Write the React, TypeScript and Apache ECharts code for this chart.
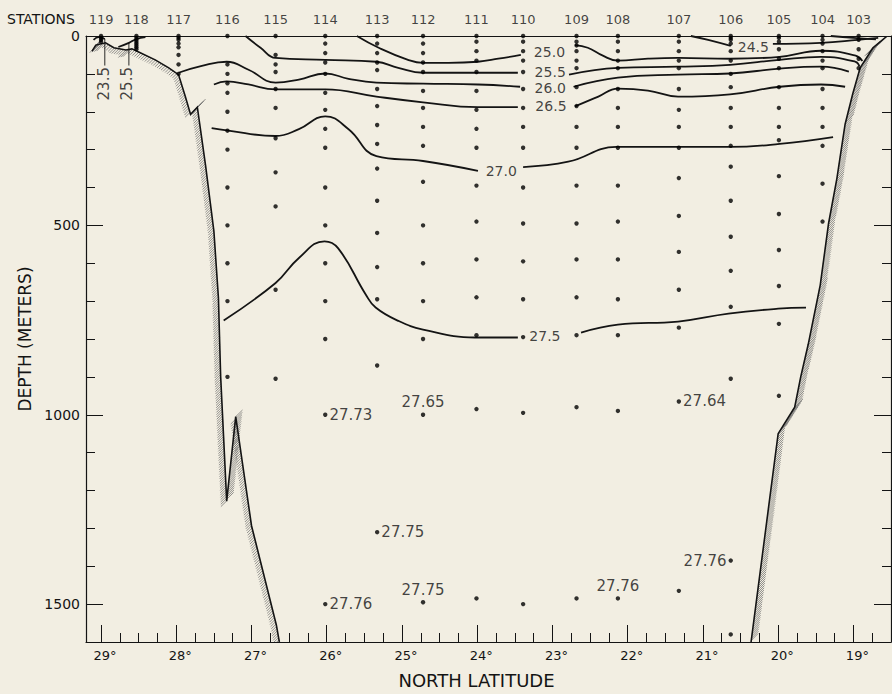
import React, { useEffect, useRef } from 'react';
import * as echarts from 'echarts';

const BG = '#f2eee2';
const INK = '#141414';
const TXT = '#141414';
const FONT = 'DejaVu Sans';

// Stations
const stationNames = ['119', '118', '117', '116', '115', '114', '113', '112', '111', '110', '109', '108', '107', '106', '105', '104', '103'];
const stationLat = [29.0, 28.53, 27.97, 27.32, 26.68, 26.02, 25.33, 24.72, 24.01, 23.39, 22.68, 22.13, 21.32, 20.63, 19.99, 19.41, 18.93];
const stationDepths: number[][] = [
  [0, 5, 10, 15],
  [0, 5, 10, 15, 20, 25, 30, 35],
  [0, 5, 10, 20, 30, 50, 75, 100],
  [0, 75, 100, 125, 150, 200, 250, 300, 400, 500, 600, 700, 900],
  [0, 50, 75, 95, 140, 190, 270, 360, 450, 670, 905],
  [0, 20, 45, 70, 100, 150, 195, 245, 295, 400, 500, 600, 700, 800, 1000, 1500],
  [0, 20, 45, 70, 90, 140, 185, 235, 285, 350, 435, 520, 610, 695, 870, 1310],
  [0, 20, 45, 70, 95, 145, 190, 240, 290, 385, 500, 600, 700, 800, 1000, 1495],
  [0, 15, 40, 65, 95, 145, 195, 245, 295, 395, 490, 590, 690, 790, 985, 1485],
  [0, 15, 40, 65, 95, 140, 190, 240, 295, 400, 495, 595, 695, 795, 995, 1500],
  [0, 15, 25, 40, 65, 85, 135, 185, 240, 295, 395, 495, 590, 690, 790, 980, 1485],
  [0, 15, 40, 65, 85, 140, 190, 240, 295, 395, 490, 590, 695, 790, 990, 1485],
  [0, 15, 40, 65, 85, 140, 195, 240, 295, 375, 475, 570, 670, 770, 965, 1465],
  [0, 5, 10, 20, 40, 65, 100, 135, 190, 240, 290, 345, 435, 530, 620, 715, 905, 1385, 1580],
  [0, 5, 15, 35, 60, 85, 135, 190, 240, 275, 370, 470, 565, 660, 760, 950],
  [0, 10, 20, 40, 65, 85, 140, 190, 240, 290, 390, 490],
  [0, 10, 35, 60, 85],
];
const stationLabelDepth = -44;

// Value annotations at sample points
const annotLat = [26.02, 24.72, 21.32, 25.33, 20.63, 26.02, 24.72, 22.13];
const annotDepth = [1000, 1000, 965, 1310, 1385, 1500, 1495, 1485];
const annotText = ['27.73', '27.65', '27.64', '27.75', '27.76', '27.76', '27.75', '27.76'];
const annotPos = ['right', 'top', 'right', 'right', 'left', 'right', 'top', 'top'];

// Contour labels
const contourLabelText = ['24.5', '25.0', '25.5', '26.0', '26.5', '27.0', '27.5'];
const contourLabelLat = [20.33, 23.04, 23.03, 23.03, 23.02, 23.68, 23.10];
const contourLabelDepth = [29, 42, 96, 137, 186, 356, 793];
const shelfLabelText = ['23.5', '25.5'];
const shelfLabelLat = [28.96, 28.65];
const shelfLabelDepth = [126, 126];

// Contours (latitude, depth)
const c240 = [[19.30, 0], [19.0, 5], [18.70, 9]];
const c245a = [[21.16, 0], [20.93, 10], [20.63, 26]];
const c245b = [[20.07, 21], [19.43, 18], [18.94, 10], [18.67, 5]];
const c250a = [[25.60, 0], [25.31, 31], [24.92, 63], [24.72, 71], [24.38, 71], [23.99, 68], [23.72, 60], [23.42, 50]];
const c250b = [[22.70, 24], [22.53, 31], [22.33, 52], [22.13, 65], [21.73, 60], [21.33, 58], [20.64, 60], [19.98, 55], [19.43, 39], [18.97, 52], [18.88, 66]];
const c255a = [[27.08, 0], [26.88, 31], [26.68, 58], [26.02, 63], [25.34, 68], [25.05, 84], [24.72, 97], [23.99, 97], [23.46, 97]];
const c255b = [[22.78, 102], [22.13, 84], [21.33, 81], [20.64, 76], [19.98, 63], [19.43, 55], [18.97, 68], [18.92, 80]];
const c260a = [[27.97, 97], [27.66, 79], [27.33, 68], [27.04, 89], [26.68, 123], [26.37, 115], [26.02, 99], [25.71, 113], [25.34, 123], [24.72, 126], [23.99, 128], [23.43, 134]];
const c260b = [[22.72, 134], [22.13, 110], [21.33, 102], [20.64, 99], [19.98, 86], [19.43, 81], [19.06, 94]];
const c265a = [[27.50, 128], [27.33, 120], [27.04, 128], [26.68, 141], [26.02, 141], [25.34, 160], [24.72, 175], [23.99, 188], [23.46, 188]];
const c265b = [[22.70, 186], [22.39, 160], [22.13, 139], [21.73, 144], [21.33, 160], [20.64, 154], [19.98, 134], [19.43, 128], [19.11, 134]];
const c270a = [[27.53, 243], [27.33, 249], [26.68, 264], [26.37, 246], [26.02, 212], [25.71, 246], [25.34, 317], [24.72, 330], [23.99, 356]];
const c270b = [[23.39, 346], [22.79, 332], [22.15, 293], [21.33, 293], [20.64, 293], [19.98, 285], [19.27, 267]];
const c275a = [[27.37, 751], [26.68, 652], [26.37, 586], [26.03, 542], [25.85, 560], [25.48, 683], [25.35, 717], [25.05, 752], [24.72, 775], [24.03, 796], [23.46, 796]];
const c275b = [[22.62, 783], [22.13, 762], [21.33, 754], [20.66, 733], [20.00, 720], [19.63, 717]];
const c235s = [[29.10, 10], [29.03, 3], [28.95, 8]];
const c255s = [[28.77, 29], [28.63, 18], [28.53, 8], [28.41, 3]];
const leader1 = [[28.95, 8], [28.95, 78]];
const leader2 = [[28.63, 18], [28.63, 78]];

const contourSegments = [c240, c245a, c245b, c250a, c250b, c255a, c255b, c260a, c260b, c265a, c265b, c270a, c270b, c275a, c275b, c235s, c255s];
const leaderSegments = [leader1, leader2];

// Sea floor
const leftBound = [[29.12, 40], [29.07, 24], [28.94, 18], [28.83, 31], [28.67, 37], [28.59, 34], [28.50, 42], [28.28, 63], [28.10, 84], [27.97, 102], [27.88, 160], [27.81, 207], [27.72, 188], [27.61, 343], [27.50, 516], [27.44, 691], [27.41, 900], [27.33, 1228], [27.21, 1005], [27.00, 1293], [26.67, 1555], [26.63, 1600]];
const rightBound = [[18.55, 0], [18.74, 31], [18.91, 84], [19.01, 154], [19.11, 233], [19.22, 377], [19.33, 495], [19.44, 657], [19.60, 814], [19.70, 900], [19.78, 980], [20.00, 1050], [20.36, 1600]];
const bounds = [{ pts: leftBound, side: 1 }, { pts: rightBound, side: -1 }];

// Axis ticks
const majorLat = [19, 20, 21, 22, 23, 24, 25, 26, 27, 28, 29];
const latMin = 18.5;
const latMax = 29.2;
const minorLat: number[] = [];
for (let v = 18.75; v <= 29.0001; v += 0.25) if (Math.abs(v - Math.round(v)) > 0.01) minorLat.push(v);
const majorDepth = [0, 500, 1000, 1500];
const minorDepth = [100, 200, 300, 400, 600, 700, 800, 900, 1100, 1200, 1300, 1400, 1600];
const depthMax = 1600;

function buildOption(): any {
  const xBase = { type: 'value', min: latMin, max: latMax, inverse: true, gridIndex: 0, splitLine: { show: false } };
  const yBase = { type: 'value', min: 0, max: depthMax, inverse: true, gridIndex: 0, splitLine: { show: false } };
  const lineStyleAxis = { color: INK, width: 1.2 };

  const series: any[] = [];

  // sea floor with hatching
  series.push({
    type: 'custom',
    silent: true,
    clip: true,
    z: 2,
    data: bounds.map((b) => b.pts[0]),
    renderItem: (params: any, api: any) => {
      const b = bounds[params.dataIndex];
      const pts = b.pts.map((p) => api.coord(p));
      let d = '';
      let carry = 0;
      const step = 2.3;
      for (let i = 0; i < pts.length - 1; i++) {
        const [x0, y0] = pts[i];
        const [x1, y1] = pts[i + 1];
        const dx = x1 - x0, dy = y1 - y0;
        const len = Math.hypot(dx, dy);
        if (!len) continue;
        const tx = dx / len, ty = dy / len;
        const nx = -ty * b.side, ny = tx * b.side;
        let hx = -0.7071, hy = 0.7071;
        if (hx * nx + hy * ny < 0) { hx = -hx; hy = -hy; }
        const dot = Math.max(hx * nx + hy * ny, 0.3);
        const L = Math.min(6 / dot, 12);
        let s = carry;
        while (s < len) {
          const px = x0 + tx * s, py = y0 + ty * s;
          d += `M${px.toFixed(1)} ${py.toFixed(1)}L${(px + hx * L).toFixed(1)} ${(py + hy * L).toFixed(1)}`;
          s += step;
        }
        carry = s - len;
      }
      return {
        type: 'group',
        children: [
          { type: 'path', shape: { pathData: d }, style: { stroke: '#666', lineWidth: 0.7, fill: null } },
          { type: 'polyline', shape: { points: pts }, style: { stroke: INK, lineWidth: 1.6, fill: null } },
        ],
      };
    },
  });

  contourSegments.forEach((seg) => {
    series.push({
      type: 'line', data: seg, smooth: 0.45, showSymbol: false, silent: true, z: 3,
      lineStyle: { color: INK, width: 1.8 },
    });
  });
  leaderSegments.forEach((seg) => {
    series.push({
      type: 'line', data: seg, showSymbol: false, silent: true, z: 3,
      lineStyle: { color: INK, width: 0.9 },
    });
  });

  // station sample points
  const pts: number[][] = [];
  stationLat.forEach((lat, i) => stationDepths[i].forEach((dep) => pts.push([lat, dep])));
  series.push({
    type: 'scatter', data: pts, symbolSize: 4.4, silent: true, z: 4,
    itemStyle: { color: '#000' },
  });

  // station names above the section
  series.push({
    type: 'scatter', clip: false, silent: true, symbolSize: 1, z: 5,
    itemStyle: { color: 'rgba(0,0,0,0)' },
    data: stationNames.map((n, i) => ({ value: [stationLat[i], stationLabelDepth], name: n })),
    label: { show: true, position: 'inside', formatter: '{b}', color: TXT, fontFamily: FONT, fontSize: 13 },
  });

  // value annotations
  series.push({
    type: 'scatter', silent: true, symbolSize: 4.4, z: 5,
    itemStyle: { color: 'rgba(0,0,0,0)' },
    data: annotText.map((t, i) => ({
      value: [annotLat[i], annotDepth[i]], name: t,
      label: { position: annotPos[i], distance: annotPos[i] === 'top' ? 3 : 2 },
    })),
    label: { show: true, formatter: '{b}', color: TXT, fontFamily: FONT, fontSize: 15 },
  });

  // contour labels
  series.push({
    type: 'scatter', silent: true, symbolSize: 1, z: 5,
    itemStyle: { color: 'rgba(0,0,0,0)' },
    data: contourLabelText.map((t, i) => ({ value: [contourLabelLat[i], contourLabelDepth[i]], name: t })),
    label: { show: true, position: 'inside', formatter: '{b}', color: TXT, fontFamily: FONT, fontSize: 14, lineHeight: 14 },
  });
  series.push({
    type: 'scatter', silent: true, symbolSize: 1, z: 5,
    itemStyle: { color: 'rgba(0,0,0,0)' },
    data: shelfLabelText.map((t, i) => ({ value: [shelfLabelLat[i], shelfLabelDepth[i]], name: t })),
    label: { show: true, position: 'inside', rotate: 90, formatter: '{b}', color: TXT, fontFamily: FONT, fontSize: 15 },
  });

  return {
    animation: false,
    backgroundColor: BG,
    grid: { left: 86, right: 1, top: 36, bottom: 47, containLabel: false },
    graphic: [
      { type: 'text', left: 7, top: 12, style: { text: 'STATIONS', fill: TXT, font: `14px "${FONT}"` } },
    ],
    xAxis: [
      {
        ...xBase, position: 'bottom',
        axisLine: { show: true, onZero: false, lineStyle: lineStyleAxis },
        axisTick: { show: true, inside: true, length: 17, customValues: majorLat, lineStyle: { color: INK, width: 1 } },
        axisLabel: { show: true, customValues: majorLat, formatter: (v: number) => `${Math.round(v)}°`, color: TXT, fontFamily: FONT, fontSize: 13, margin: 7, padding: [0, 0, 0, 8] },
        name: 'NORTH LATITUDE', nameLocation: 'middle', nameGap: 29,
        nameTextStyle: { color: TXT, fontFamily: FONT, fontSize: 18, padding: [0, 24, 0, 0] },
      },
      {
        ...xBase, position: 'bottom',
        axisLine: { show: false, onZero: false },
        axisTick: { show: true, inside: true, length: 9, customValues: minorLat, lineStyle: { color: INK, width: 1 } },
        axisLabel: { show: false },
      },
      {
        ...xBase, position: 'top',
        axisLine: { show: true, onZero: false, lineStyle: { color: INK, width: 1.1 } },
        axisTick: { show: false },
        axisLabel: { show: false },
      },
    ],
    yAxis: [
      {
        ...yBase, position: 'left',
        axisLine: { show: true, onZero: false, lineStyle: lineStyleAxis },
        axisTick: { show: true, inside: true, length: 17, customValues: majorDepth, lineStyle: { color: INK, width: 1 } },
        axisLabel: { show: true, customValues: majorDepth, formatter: (v: number) => String(Math.round(v)), color: TXT, fontFamily: FONT, fontSize: 14, margin: 6 },
        name: 'DEPTH (METERS)', nameLocation: 'middle', nameRotate: 90, nameGap: 53,
        nameTextStyle: { color: TXT, fontFamily: FONT, fontSize: 17 },
      },
      {
        ...yBase, position: 'left',
        axisLine: { show: false, onZero: false },
        axisTick: { show: true, inside: true, length: 9, customValues: minorDepth, lineStyle: { color: INK, width: 1 } },
        axisLabel: { show: false },
      },
      {
        ...yBase, position: 'right',
        axisLine: { show: true, onZero: false, lineStyle: lineStyleAxis },
        axisTick: { show: true, inside: true, length: 17, customValues: majorDepth, lineStyle: { color: INK, width: 1 } },
        axisLabel: { show: false },
      },
      {
        ...yBase, position: 'right',
        axisLine: { show: false, onZero: false },
        axisTick: { show: true, inside: true, length: 9, customValues: minorDepth, lineStyle: { color: INK, width: 1 } },
        axisLabel: { show: false },
      },
    ],
    series,
  };
}

export default function App() {
  const ref = useRef<HTMLDivElement>(null);
  useEffect(() => {
    if (!ref.current) return;
    const chart = echarts.init(ref.current, null, { renderer: 'svg' });
    chart.setOption(buildOption());
    return () => chart.dispose();
  }, []);
  return (
    <div
      ref={ref}
      style={{ position: 'fixed', left: 0, top: 0, width: 892, height: 694, background: BG }}
    />
  );
}
